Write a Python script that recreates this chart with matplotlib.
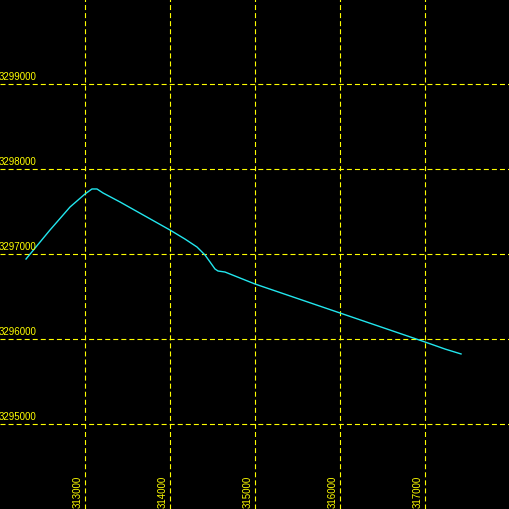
import matplotlib
matplotlib.use('Agg')
from matplotlib import pyplot as plt

# grid values
x_ticks = [313000, 314000, 315000, 316000, 317000]
y_ticks = [3295000, 3296000, 3297000, 3298000, 3299000]

# track
track_x = [312306, 312588, 312824, 313000, 313082, 313141, 313212, 313412, 313706,
           314000, 314176, 314318, 314412, 314471, 314529, 314565, 314647, 315000,
           316000, 317000, 317235, 317424]
track_y = [3296941, 3297282, 3297553, 3297706, 3297765, 3297765, 3297718, 3297612, 3297447,
           3297282, 3297176, 3297082, 3296988, 3296906, 3296824, 3296800, 3296788, 3296647,
           3296306, 3295965, 3295882, 3295824]

plt.rcParams['lines.scale_dashes'] = False
plt.rcParams['font.family'] = ['Liberation Sans', 'DejaVu Sans']

fig = plt.figure(figsize=(5.1, 5.1), dpi=100, facecolor='black')
ax = fig.add_axes([0, 0, 1, 1])
ax.set_facecolor('black')
ax.set_xlim(312000, 318000)
ax.set_ylim(3294000, 3300000)
ax.set_xticks([])
ax.set_yticks([])
for s in ax.spines.values():
    s.set_visible(False)

yellow = '#ffff00'
for xv in x_ticks:
    ax.axvline(xv, color=yellow, lw=0.8, dashes=(3.6, 2.2))
    ax.annotate(str(xv), xy=(xv, 0), xycoords=('data', 'axes fraction'),
                xytext=(-2, 2), textcoords='offset pixels', rotation=90,
                ha='right', va='bottom', color=yellow, fontsize=7)
for yv in y_ticks:
    ax.axhline(yv, color=yellow, lw=0.8, dashes=(3.6, 2.2))
    ax.annotate(str(yv), xy=(0, yv), xycoords=('axes fraction', 'data'),
                xytext=(-1, 3), textcoords='offset pixels',
                ha='left', va='bottom', color=yellow, fontsize=7)

ax.plot(track_x, track_y, color='#22e6ee', lw=1.0)

fig.savefig('out.png', dpi=100, facecolor='black')
